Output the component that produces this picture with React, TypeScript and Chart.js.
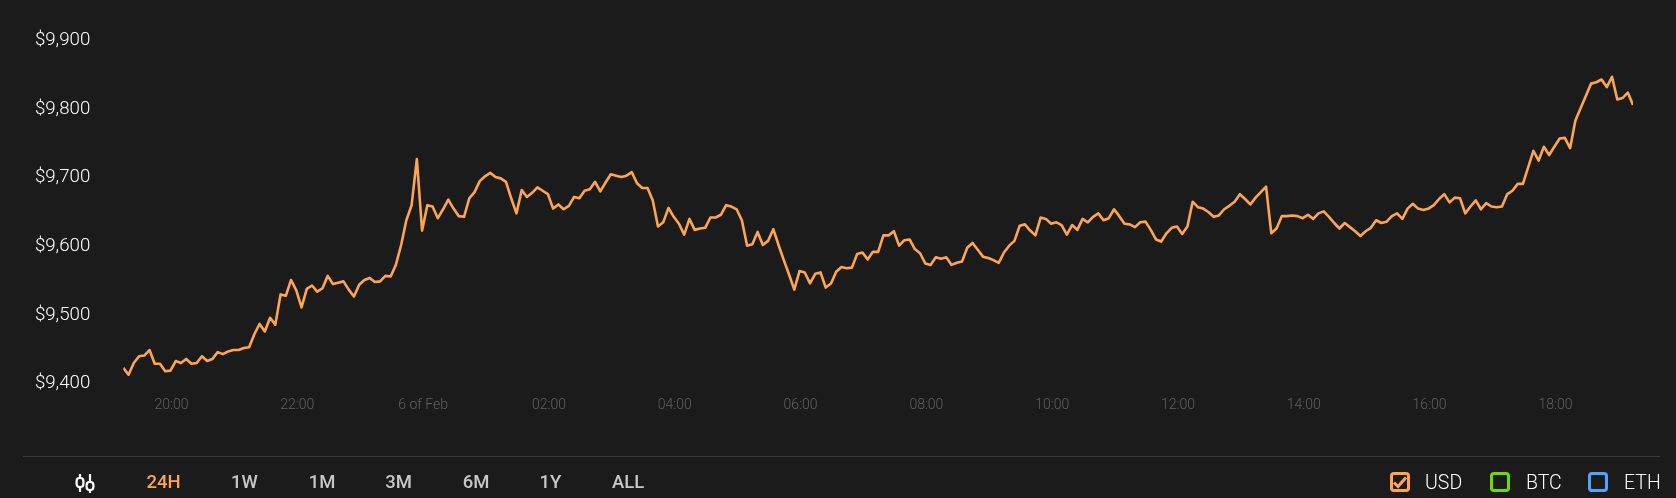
import React, { useEffect, useRef } from "react";
import { Chart, registerables } from "chart.js";

Chart.register(...registerables);

const startMinute = -286;
const stepMinutes = 5;

const priceUsd = [
  9421, 9411, 9428, 9438, 9439, 9447, 9427, 9427, 9416, 9417,
  9431, 9428, 9434, 9427, 9428, 9438, 9431, 9434, 9444, 9441,
  9445, 9447, 9447, 9450, 9451, 9470, 9485, 9474, 9494, 9484,
  9528, 9526, 9549, 9534, 9509, 9536, 9541, 9532, 9537, 9555,
  9543, 9545, 9547, 9535, 9525, 9542, 9549, 9552, 9546, 9547,
  9555, 9554, 9571, 9600, 9636, 9658, 9725, 9621, 9658, 9656,
  9639, 9652, 9666, 9653, 9642, 9641, 9668, 9677, 9693, 9700,
  9705, 9699, 9697, 9692, 9668, 9646, 9680, 9670, 9676, 9684,
  9679, 9674, 9653, 9659, 9652, 9657, 9670, 9668, 9679, 9681,
  9692, 9678, 9691, 9703, 9701, 9699, 9701, 9706, 9690, 9683,
  9683, 9665, 9627, 9633, 9654, 9641, 9631, 9615, 9638, 9622,
  9624, 9625, 9640, 9640, 9644, 9658, 9656, 9652, 9636, 9599,
  9601, 9619, 9600, 9606, 9623, 9600, 9578, 9557, 9535, 9562,
  9560, 9544, 9558, 9560, 9538, 9544, 9561, 9568, 9566, 9567,
  9587, 9589, 9579, 9590, 9590, 9614, 9614, 9620, 9599, 9607,
  9608, 9594, 9588, 9573, 9571, 9582, 9580, 9582, 9571, 9574,
  9576, 9596, 9603, 9593, 9583, 9581, 9578, 9574, 9589, 9599,
  9606, 9628, 9630, 9621, 9614, 9640, 9638, 9631, 9633, 9629,
  9615, 9629, 9622, 9638, 9633, 9641, 9646, 9636, 9639, 9652,
  9642, 9631, 9630, 9626, 9633, 9634, 9622, 9608, 9605, 9617,
  9625, 9627, 9616, 9627, 9663, 9655, 9653, 9648, 9641, 9643,
  9652, 9657, 9663, 9674, 9667, 9659, 9669, 9677, 9685, 9617,
  9624, 9642, 9642, 9643, 9642, 9639, 9644, 9638, 9646, 9649,
  9641, 9632, 9624, 9632, 9626, 9620, 9613, 9620, 9625, 9636,
  9632, 9634, 9642, 9646, 9638, 9653, 9660, 9653, 9651, 9653,
  9658, 9667, 9674, 9662, 9669, 9668, 9646, 9656, 9665, 9652,
  9661, 9656, 9655, 9656, 9674, 9679, 9689, 9689, 9713, 9737,
  9723, 9743, 9731, 9743, 9755, 9756, 9741, 9781, 9799, 9817,
  9835, 9837, 9841, 9830, 9845, 9812, 9814, 9822, 9804,
];

const xTickMinutes = [-240, -120, 0, 120, 240, 360, 480, 600, 720, 840, 960, 1080];
const xTickLabels = ["20:00", "22:00", "6 of Feb", "02:00", "04:00", "06:00", "08:00", "10:00", "12:00", "14:00", "16:00", "18:00"];
const yTickValues = [9400, 9500, 9600, 9700, 9800, 9900];
const rangeButtons = ["24H", "1W", "1M", "3M", "6M", "1Y", "ALL"];
const rangeCenters = [163.5, 244.5, 322, 398.5, 476, 550.5, 628];
const currencies = ["USD", "BTC", "ETH"];
const currencyColors = ["#ffa552", "#6fdc00", "#4da6ff"];
const currencyBoxX = [1390, 1490, 1588];
const currencyTextX = [1425, 1526, 1624];

const BG = "#1b1b1b";
const ORANGE = "#ffa552";

export default function App() {
  const ref = useRef<HTMLCanvasElement>(null);

  useEffect(() => {
    const chart = new Chart(ref.current!, {
      type: "line",
      data: {
        datasets: [
          {
            data: priceUsd.map((v, i) => ({ x: startMinute + i * stepMinutes, y: v })),
            borderColor: ORANGE,
            borderWidth: 2.6,
            borderJoinStyle: "round",
            pointRadius: 0,
            tension: 0,
            fill: false,
          },
        ],
      },
      options: {
        animation: false,
        responsive: false,
        parsing: false,
        layout: { padding: { top: 39, right: 43, bottom: 0, left: 0 } },
        plugins: { legend: { display: false }, tooltip: { enabled: false } },
        scales: {
          x: {
            type: "linear",
            min: startMinute,
            max: startMinute + (priceUsd.length - 1) * stepMinutes,
            grid: { display: false, drawTicks: false },
            border: { display: false },
            afterBuildTicks: (s: any) => {
              s.ticks = xTickMinutes.map((value) => ({ value }));
            },
            afterFit: (s: any) => {
              s.height = 115.7;
            },
            ticks: {
              autoSkip: false,
              maxRotation: 0,
              padding: 15,
              color: "#606060",
              font: { family: "Roboto", size: 14, weight: "300" },
              callback: (v: any) => xTickLabels[xTickMinutes.indexOf(Number(v))] ?? "",
            },
          },
          y: {
            type: "linear",
            min: yTickValues[0],
            max: yTickValues[yTickValues.length - 1],
            grid: { display: false, drawTicks: false },
            border: { display: false },
            afterBuildTicks: (s: any) => {
              s.ticks = yTickValues.map((value) => ({ value }));
            },
            afterFit: (s: any) => {
              s.width = 123.3;
              s.paddingTop = 0;
              s.paddingBottom = 0;
            },
            ticks: {
              padding: 33,
              labelOffset: 1.5,
              color: "#ffffff",
              font: { family: "Roboto", size: 18.7, weight: "300" },
              callback: (v: any) => "$" + Number(v).toLocaleString("en-US"),
            },
          },
        },
      },
    } as any);
    return () => chart.destroy();
  }, []);

  const textBase: React.CSSProperties = {
    position: "absolute",
    top: 470,
    height: 24,
    lineHeight: "24px",
    fontFamily: "Roboto",
    whiteSpace: "nowrap",
  };

  return (
    <div style={{ position: "absolute", left: 0, top: 0, width: 1676, height: 498, background: BG, overflow: "hidden" }}>
      <canvas ref={ref} width={1676} height={498} style={{ display: "block", width: 1676, height: 498 }} />
      <div style={{ position: "absolute", left: 23, top: 456, width: 1637, height: 1, background: "#3a3a3a" }} />

      <svg style={{ position: "absolute", left: 72, top: 472 }} width={26} height={22} viewBox="0 0 26 22" fill="none" stroke="#ffffff" strokeWidth={2.2}>
        <line x1={8} y1={2} x2={8} y2={6} />
        <line x1={8} y1={15} x2={8} y2={20} />
        <rect x={4.6} y={6} width={6.8} height={9} rx={3} />
        <line x1={18} y1={2} x2={18} y2={10} />
        <line x1={18} y1={18} x2={18} y2={21} />
        <rect x={14.6} y={10} width={6.8} height={8} rx={3} />
      </svg>

      {rangeButtons.map((label, i) => (
        <div
          key={label}
          style={{
            ...textBase,
            left: rangeCenters[i] - 40,
            width: 80,
            textAlign: "center",
            fontSize: 18.5,
            fontWeight: 500,
            color: i === 0 ? ORANGE : "#c8c8c8",
          }}
        >
          {label}
        </div>
      ))}

      {currencies.map((label, i) => (
        <React.Fragment key={label}>
          <svg style={{ position: "absolute", left: currencyBoxX[i], top: 472 }} width={20} height={20} viewBox="0 0 20 20" fill="none">
            <rect x={1.5} y={1.5} width={17} height={17} rx={2.5} stroke={currencyColors[i]} strokeWidth={3} />
            {i === 0 && <path d="M4 10.5 L8 14.5 L16 5.5" stroke={currencyColors[i]} strokeWidth={3} />}
          </svg>
          <div style={{ ...textBase, top: 471, left: currencyTextX[i], fontSize: 19.5, fontWeight: 300, color: "#ffffff" }}>{label}</div>
        </React.Fragment>
      ))}
    </div>
  );
}
